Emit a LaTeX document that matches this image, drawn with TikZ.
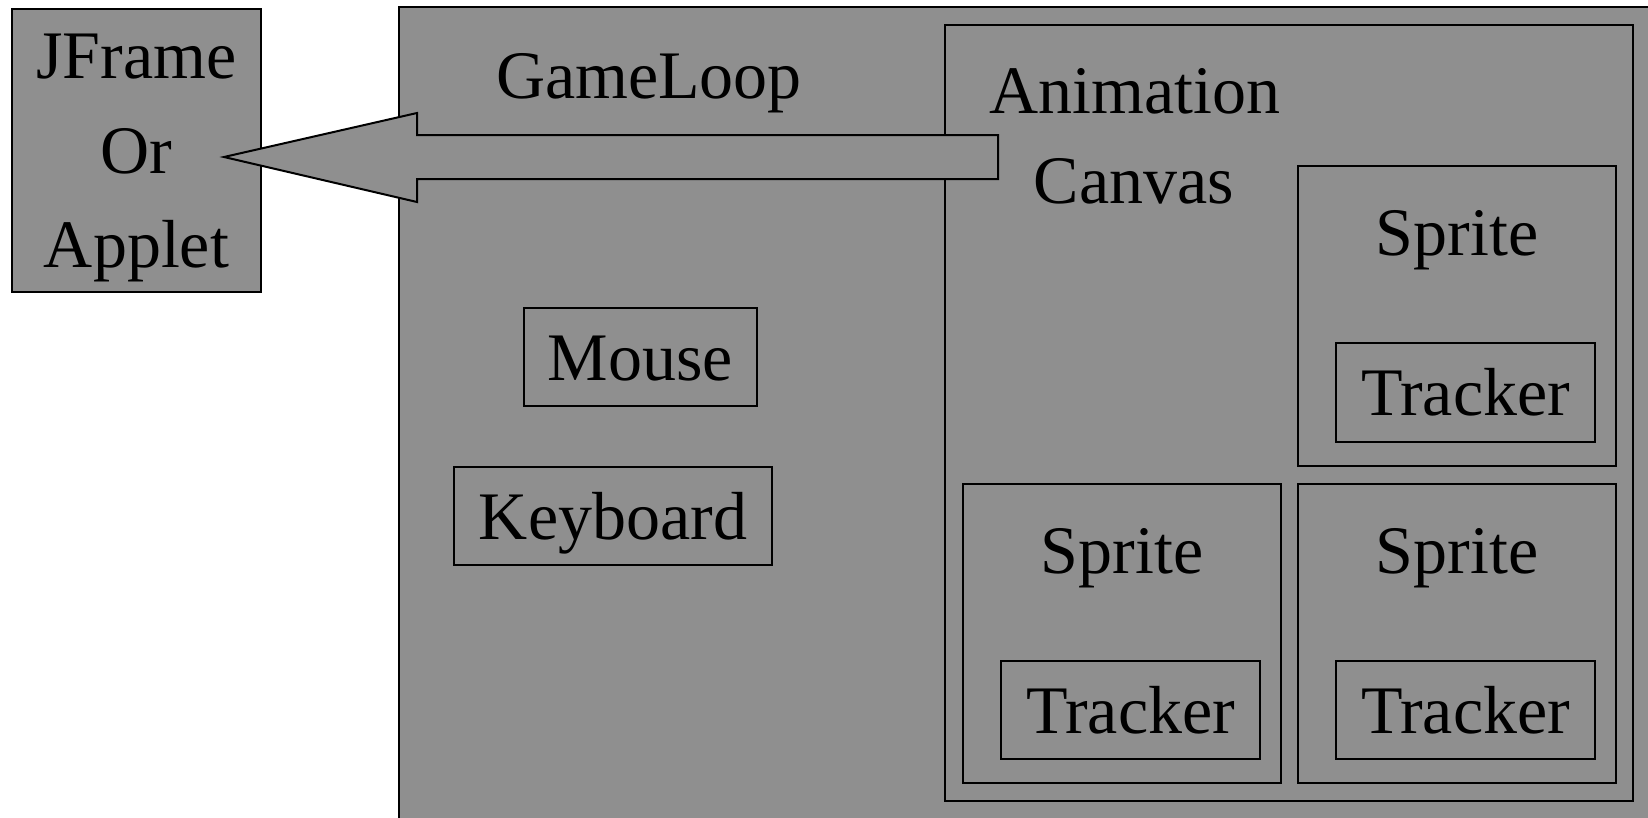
\documentclass[tikz,border=0pt]{standalone}
\usepackage{fontspec}
\setmainfont{Liberation Serif}
\usetikzlibrary{fit,calc}
\definecolor{fillgray}{RGB}{143,143,143}
\begin{document}
\begin{tikzpicture}[x=1pt,y=-1pt,
  box/.style={draw=black, line width=2pt, fill=fillgray, rectangle, inner sep=0pt},
  lbl/.style={anchor=base, inner sep=0pt, font=\fontsize{68}{80}\selectfont, text=black},
  bigarrow/.style={draw=black, line width=2pt, fill=fillgray, line join=miter}]
\useasboundingbox (0,0) rectangle (1648,817);
\clip (0,0) rectangle (1648,817);
\fill[white] (0,0) rectangle (1648,817);
% JFrame / Applet
\node[box, fit={(12,9) (261,292)}] (jframe) {};
\node[lbl] (jf1) at (136.5,78) {JFrame};
\node[lbl] (jf2) at (136.5,173) {Or};
\node[lbl] (jf3) at (136.5,267) {Applet};
% GameLoop
\node[box, fit={(399,7) (1720,880)}] (gameloop) {};
\node[lbl] (glt) at (649,98) {GameLoop};
\node[box, fit={(524,308) (757,406)}] (mouse) {};
\node[lbl] (mouset) at (640.5,380) {Mouse};
\node[box, fit={(454,467) (772,565)}] (keyboard) {};
\node[lbl] (keyt) at (613,539) {Keyboard};
% Animation canvas
\node[box, fit={(945,25) (1633,801)}] (canvas) {};
\node[lbl] (can1) at (1135,113) {Animation};
\node[lbl] (can2) at (1134,203) {Canvas};
% Sprites
\node[box, fit={(1298,166) (1616,466)}] (sprA) {};
\node[lbl] (sprAt) at (1457,255) {Sprite};
\node[box, fit={(1336,343) (1595,442)}] (trkA) {};
\node[lbl] (trkAt) at (1465.5,415) {Tracker};
\node[box, fit={(963,484) (1281,783)}] (sprB) {};
\node[lbl] (sprBt) at (1122,573) {Sprite};
\node[box, fit={(1001,661) (1260,759)}] (trkB) {};
\node[lbl] (trkBt) at (1130.5,733) {Tracker};
\node[box, fit={(1298,484) (1616,783)}] (sprC) {};
\node[lbl] (sprCt) at (1457,573) {Sprite};
\node[box, fit={(1336,661) (1595,759)}] (trkC) {};
\node[lbl] (trkCt) at (1465.5,733) {Tracker};
% Big arrow from canvas to JFrame
\coordinate (tail) at (998,157);
\coordinate (tip) at (224,157);
\draw[bigarrow] ($(tail)+(0,-22)$) -- (417,135) -- (417,113) -- (tip)
  -- (417,202) -- (417,179) -- ($(tail)+(0,22)$) -- cycle;
\end{tikzpicture}
\end{document}
